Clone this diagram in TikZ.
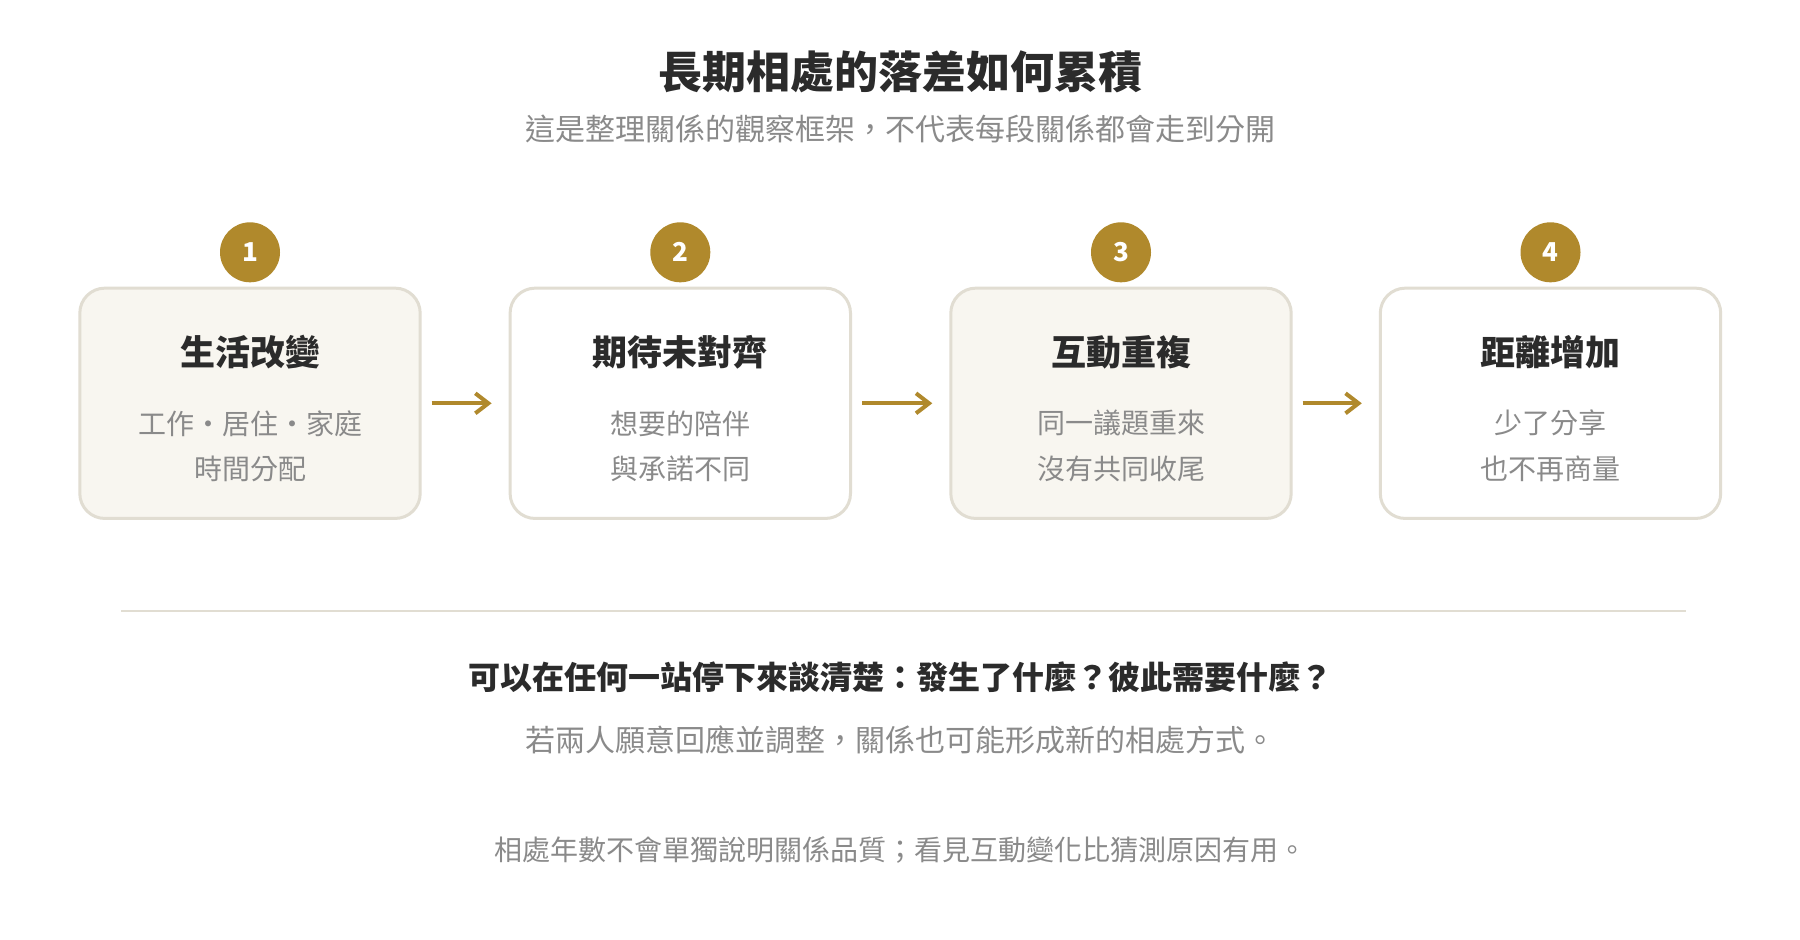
\documentclass[tikz,border=0pt]{standalone}
\usepackage{fontspec}
\setmainfont{Noto Sans CJK TC}
\usetikzlibrary{arrows.meta}
\definecolor{gold}{HTML}{B0892C}
\definecolor{boxline}{HTML}{E1DDD2}
\definecolor{boxfill}{HTML}{F8F6F0}
\definecolor{darktext}{HTML}{2B2B2B}
\definecolor{graytext}{HTML}{8A8A8A}
\begin{document}
\begin{tikzpicture}[x=1pt,y=-1pt,
  stepbox/.style={draw=boxline, line width=3pt, rounded corners=25pt, minimum width=340.4pt, minimum height=230.3pt, inner sep=0pt},
  numdot/.style={circle, fill=gold, minimum size=60pt, inner sep=0pt, text=white, font=\fontsize{26}{30}\selectfont\bfseries},
  boxtitle/.style={text=darktext, font=\fontsize{35}{40}\selectfont\bfseries, inner sep=0pt},
  boxsub/.style={text=graytext, font=\fontsize{28}{32}\selectfont, inner sep=0pt},
  flow/.style={draw=gold, line width=4pt, -{Straight Barb[length=13pt,width=20pt]}},
  headline/.style={text=darktext, font=\fontsize{44}{52}\selectfont\bfseries, inner sep=0pt},
  graynote/.style={text=graytext, inner sep=0pt},
]
\useasboundingbox (0,0) rectangle (1800,940);
\fill[white] (0,0) rectangle (1800,940);

\node[headline] (title) at (900,71.5) {長期相處的落差如何累積};
\node[graynote, font=\fontsize{30}{36}\selectfont] (subtitle) at (900,128.5) {這是整理關係的觀察框架，不代表每段關係都會走到分開};

\node[stepbox, fill=boxfill] (b1) at (250,403.3) {};
\node[stepbox, fill=white] (b2) at (680.3,403.3) {};
\node[stepbox, fill=boxfill] (b3) at (1121,403.3) {};
\node[stepbox, fill=white] (b4) at (1550.5,403.3) {};

\node[numdot] (n1) at (250,252.3) {1};
\node[numdot] (n2) at (680.3,252.3) {2};
\node[numdot] (n3) at (1121,252.3) {3};
\node[numdot] (n4) at (1550.5,252.3) {4};

\node[boxtitle] (t1) at (250,352) {生活改變};
\node[boxsub] (s1a) at (250,423.3) {工作・居住・家庭};
\node[boxsub] (s1b) at (250,469) {時間分配};

\node[boxtitle] (t2) at (680.3,352) {期待未對齊};
\node[boxsub] (s2a) at (680.3,423.3) {想要的陪伴};
\node[boxsub] (s2b) at (680.3,469) {與承諾不同};

\node[boxtitle] (t3) at (1121,352) {互動重複};
\node[boxsub] (s3a) at (1121,423.3) {同一議題重來};
\node[boxsub] (s3b) at (1121,469) {沒有共同收尾};

\node[boxtitle] (t4) at (1550.5,352) {距離增加};
\node[boxsub] (s4a) at (1550.5,423.3) {少了分享};
\node[boxsub] (s4b) at (1550.5,469) {也不再商量};

\draw[flow] ([xshift=10pt]b1.east) -- ([xshift=-17pt]b2.west);
\draw[flow] ([xshift=10pt]b2.east) -- ([xshift=-17pt]b3.west);
\draw[flow] ([xshift=10pt]b3.east) -- ([xshift=-17pt]b4.west);

\coordinate (d1) at (121,610.7);
\coordinate (d2) at (1686,610.7);
\draw[boxline, line width=2pt] (d1) -- (d2);

\node[text=darktext, font=\fontsize{32}{38}\selectfont\bfseries, inner sep=0pt] (q) at (900,677.5) {可以在任何一站停下來談清楚：發生了什麼？彼此需要什麼？};
\node[graynote, font=\fontsize{30}{36}\selectfont] (l2) at (900,740) {若兩人願意回應並調整，關係也可能形成新的相處方式。};
\node[graynote, font=\fontsize{28}{34}\selectfont] (l3) at (900,850) {相處年數不會單獨說明關係品質；看見互動變化比猜測原因有用。};
\end{tikzpicture}
\end{document}
